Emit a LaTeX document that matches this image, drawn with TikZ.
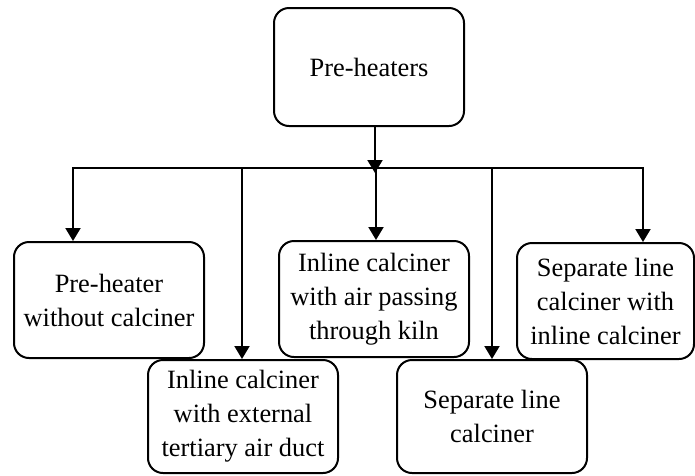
\documentclass[tikz,border=0pt]{standalone}
\usepackage{fontspec}
\setmainfont{Liberation Serif}
\usetikzlibrary{arrows.meta}
\begin{document}
\begin{tikzpicture}[x=1pt,y=-1pt,
  box/.style={draw,line width=2pt,rounded corners=15pt,minimum width=190pt,minimum height=116pt,
    align=center,inner sep=2pt,font=\fontsize{26.4}{34}\selectfont},
  conn/.style={line width=2pt},
  arr/.style={line width=2pt,-{Triangle[length=13pt,width=15pt]}}]
\useasboundingbox (0,0) rectangle (695,475);
\node[box,minimum height=118pt] (top) at (369,67) {Pre-heaters};
\node[box] (b1) at (109,300) {Pre-heater\\without calciner};
\node[box,minimum height=113pt] (b2) at (243,416.5) {Inline calciner\\with external\\tertiary air duct};
\node[box] (b3) at (374,299) {Inline calciner\\with air passing\\through kiln};
\node[box,minimum height=113pt] (b4) at (492,416.5) {Separate line\\calciner};
\node[box,minimum width=177pt] (b5) at (605.5,301) {Separate line\\calciner with\\inline calciner};
\coordinate (p0) at (375,173);
\coordinate (c1) at (73,168);
\coordinate (c2) at (242,168);
\coordinate (c3) at (376,168);
\coordinate (c4) at (492,168);
\coordinate (c5) at (643,168);
\draw[conn] ([xshift=-1pt]c1) -- ([xshift=1pt]c5);
\draw[arr] (top.south -| p0) -- (p0);
\draw[arr] (c1) -- (c1 |- b1.north);
\draw[arr] (c2) -- (c2 |- b2.north);
\draw[arr] (c3) -- (c3 |- b3.north);
\draw[arr] (c4) -- (c4 |- b4.north);
\draw[arr] (c5) -- (c5 |- b5.north);
\end{tikzpicture}
\end{document}
